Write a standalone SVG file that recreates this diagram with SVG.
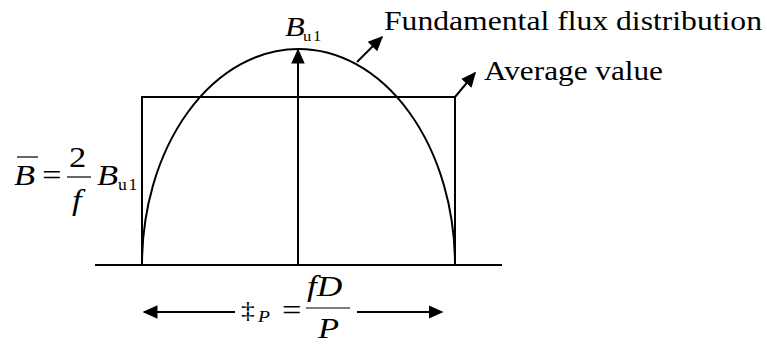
<svg xmlns="http://www.w3.org/2000/svg" width="767" height="345" viewBox="0 0 767 345">
<style>
.ln{stroke:#000;stroke-width:2;fill:none}
.t{fill:#000}
.i{font-style:italic}
</style>
<defs>
<marker id="ahb" viewBox="0 0 10 10" refX="9" refY="5" markerWidth="15" markerHeight="15" markerUnits="userSpaceOnUse" orient="auto">
<path d="M0,0.5 L10,5 L0,9.5 z" fill="#000"/>
</marker>
</defs>
<rect width="767" height="345" fill="#fff"/>
<g id="baseline"><line class="ln" x1="95" y1="265" x2="502" y2="265"/></g>
<g id="average"><rect class="ln" x="142" y="97" width="313" height="168"/></g>
<g id="fundamental"><path class="ln" d="M142,265 A156.5,216 0 0 1 455,265"/></g>
<g id="connectors">
<line class="ln" x1="298" y1="265" x2="298" y2="50" marker-end="url(#ahb)"/>
<line class="ln" x1="357" y1="62" x2="382" y2="37" marker-end="url(#ahb)"/>
<line class="ln" x1="455" y1="97" x2="475" y2="73" marker-end="url(#ahb)"/>
<line class="ln" x1="235" y1="312" x2="144" y2="312" marker-end="url(#ahb)"/>
<line class="ln" x1="357" y1="312" x2="442" y2="312" marker-end="url(#ahb)"/>
</g>
<g font-family="'Liberation Serif','Times New Roman','DejaVu Serif',serif">
<g id="labels">
<text class="t" x="384" y="30" font-size="27" textLength="378" lengthAdjust="spacingAndGlyphs">Fundamental flux distribution</text>
<text class="t" x="484" y="80" font-size="27" textLength="179" lengthAdjust="spacingAndGlyphs">Average value</text>
<text class="t i" transform="translate(285 36) scale(1.15 1)" font-size="28">B</text>
<text class="t" transform="translate(303 41) scale(1.1 1)" font-size="15" letter-spacing="1.5">u1</text>
</g>
<g id="formula-left">
<line x1="17" y1="157" x2="38" y2="157" stroke="#000" stroke-width="1.2"/>
<text class="t i" transform="translate(14 185) scale(1.15 1)" font-size="30">B</text>
<text class="t" transform="translate(42 185) scale(1.15 1)" font-size="30">=</text>
<text class="t" transform="translate(69 167) scale(1.15 1)" font-size="30">2</text>
<line x1="67" y1="177" x2="91" y2="177" stroke="#000" stroke-width="1.2"/>
<text class="t i" transform="translate(72 210) scale(1.15 1)" font-size="30">f</text>
<text class="t i" transform="translate(97 185) scale(1.15 1)" font-size="30">B</text>
<text class="t" transform="translate(118 190) scale(1.1 1)" font-size="16" letter-spacing="1.5">u1</text>
</g>
<g id="formula-bottom">
<text class="t" transform="translate(241 318) scale(1.15 1)" font-size="24">‡</text>
<text class="t i" transform="translate(258 322) scale(1.15 1)" font-size="17">P</text>
<text class="t" transform="translate(282 320) scale(1.15 1)" font-size="30">=</text>
<text class="t i" transform="translate(307 296) scale(1.18 1)" font-size="30">fD</text>
<line x1="306" y1="308" x2="350" y2="308" stroke="#000" stroke-width="1.2"/>
<text class="t i" transform="translate(318 338) scale(1.15 1)" font-size="30">P</text>
</g>
</g>
</svg>
